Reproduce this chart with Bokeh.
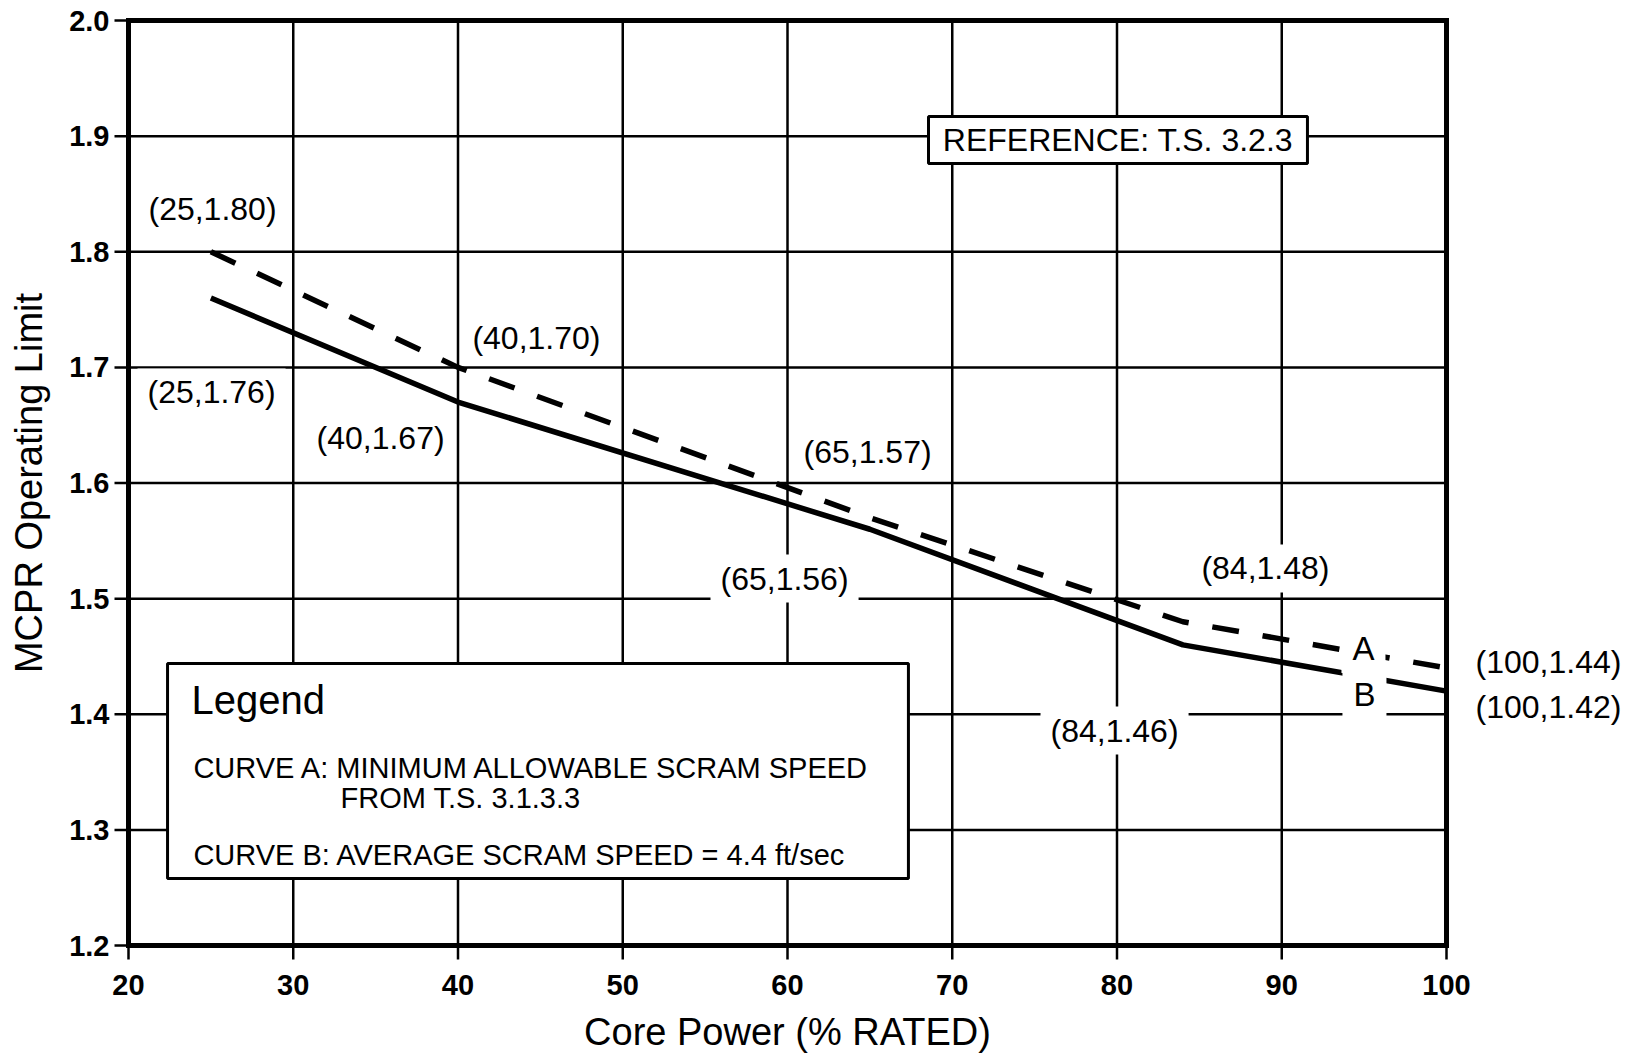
import math
from bokeh.plotting import figure
from bokeh.models import Range1d, Label, BoxAnnotation
from bokeh.embed import file_html
from bokeh.resources import INLINE

# ---- data ----
power = [25, 40, 65, 84, 100]
curve_a = [1.80, 1.70, 1.57, 1.48, 1.44]
curve_b = [1.76, 1.67, 1.56, 1.46, 1.42]
x_ticks = [20, 30, 40, 50, 60, 70, 80, 90, 100]
y_ticks = [1.2, 1.3, 1.4, 1.5, 1.6, 1.7, 1.8, 1.9, 2.0]

# annotation placement (data coordinates)
a_label_x = [25.10, 44.76, 64.86, 89.01, 106.19]
a_label_y = [1.8374, 1.7258, 1.6264, 1.5261, 1.4448]
b_label_x = [25.04, 35.30, 59.82, 79.85, 106.19]
b_label_y = [1.6783, 1.6385, 1.5174, 1.3859, 1.4059]

FONT = "Liberation Sans"
X_MIN, X_MAX = x_ticks[0], x_ticks[-1]
Y_MIN, Y_MAX = y_ticks[0], y_ticks[-1]

# ---- layout: the whole canvas is the drawing area; axes are drawn in data space ----
W, H = 1635, 1054
BOX_LEFT_PX, BOX_TOP_PX = 128, 20          # canvas position of (20, 2.0)
PX_PER_X = 16.475                           # pixels per 1 % power
PX_PER_Y = 1156.25                          # pixels per 1.0 of MCPR
VIEW_X0 = X_MIN - BOX_LEFT_PX / PX_PER_X
VIEW_X1 = X_MIN + (W - BOX_LEFT_PX) / PX_PER_X
VIEW_Y1 = Y_MAX + BOX_TOP_PX / PX_PER_Y
VIEW_Y0 = Y_MAX - (H - BOX_TOP_PX) / PX_PER_Y
TICK_X = 14 / PX_PER_X
TICK_Y = 14 / PX_PER_Y

p = figure(width=W, height=H, output_backend="svg", toolbar_location=None,
           x_axis_location=None, y_axis_location=None,
           x_range=Range1d(VIEW_X0, VIEW_X1), y_range=Range1d(VIEW_Y0, VIEW_Y1),
           min_border=0)
p.background_fill_color = "white"
p.border_fill_color = "white"
p.outline_line_color = None
p.xgrid.visible = False
p.ygrid.visible = False
for g in p.grid:
    g.grid_line_color = None

# grid lines (inside the 20..100 x 1.2..2.0 box)
p.segment(x0=x_ticks, y0=[Y_MIN] * len(x_ticks), x1=x_ticks, y1=[Y_MAX] * len(x_ticks),
          line_color="black", line_width=2.5)
p.segment(x0=[X_MIN] * len(y_ticks), y0=y_ticks, x1=[X_MAX] * len(y_ticks), y1=y_ticks,
          line_color="black", line_width=2.5)

# tick marks outside the box
p.segment(x0=x_ticks, y0=[Y_MIN] * len(x_ticks), x1=x_ticks, y1=[Y_MIN - TICK_Y] * len(x_ticks),
          line_color="black", line_width=2.5)
p.segment(x0=[X_MIN] * len(y_ticks), y0=y_ticks, x1=[X_MIN - TICK_X] * len(y_ticks), y1=y_ticks,
          line_color="black", line_width=2.5)

# heavy frame
p.segment(x0=[X_MIN, X_MIN, X_MAX, X_MIN], y0=[Y_MIN, Y_MAX, Y_MIN, Y_MIN],
          x1=[X_MIN, X_MAX, X_MAX, X_MAX], y1=[Y_MAX, Y_MAX, Y_MAX, Y_MIN],
          line_color="black", line_width=5, line_cap="square")

# curves
p.line(power, curve_a, line_color="black", line_width=5.5, line_dash="27 24", line_cap="butt")
p.line(power, curve_b, line_color="black", line_width=5.5, line_join="round")

# tick labels
for xv in x_ticks:
    p.add_layout(Label(x=xv, y=Y_MIN - 39 / PX_PER_Y, text=f"{xv}", text_font=FONT,
                       text_font_size="29px", text_font_style="bold", text_align="center",
                       text_baseline="middle", text_color="black"))
for yv in y_ticks:
    p.add_layout(Label(x=X_MIN - 19 / PX_PER_X, y=yv, text=f"{yv:.1f}", text_font=FONT,
                       text_font_size="29px", text_font_style="bold", text_align="right",
                       text_baseline="middle", text_color="black"))

# axis titles
p.add_layout(Label(x=(X_MIN + X_MAX) / 2, y=Y_MIN - 86 / PX_PER_Y, text="Core Power (% RATED)",
                   text_font=FONT, text_font_size="38px", text_align="center",
                   text_baseline="middle", text_color="black"))
p.add_layout(Label(x=X_MIN - 100 / PX_PER_X, y=(Y_MIN + Y_MAX) / 2, text="MCPR Operating Limit",
                   angle=math.pi / 2, text_font=FONT, text_font_size="38px", text_align="center",
                   text_baseline="middle", text_color="black"))

# legend box
legend_box = BoxAnnotation(left=22.37, right=67.34, top=1.4439, bottom=1.2580,
                           fill_color="white", fill_alpha=1.0,
                           line_color="black", line_width=3, line_alpha=1.0)
p.add_layout(legend_box)
ref_box = BoxAnnotation(left=68.56, right=91.56, top=1.917, bottom=1.8763,
                        fill_color="white", fill_alpha=1.0,
                        line_color="black", line_width=3, line_alpha=1.0)
p.add_layout(ref_box)

p.add_layout(Label(x=80.06, y=1.8967, text="REFERENCE: T.S. 3.2.3", text_font=FONT,
                   text_font_size="32px", text_align="center", text_baseline="middle",
                   text_color="black"))

p.add_layout(Label(x=23.82, y=1.4119, text="Legend", text_font=FONT, text_font_size="40px",
                   text_align="left", text_baseline="middle", text_color="black"))
p.add_layout(Label(x=23.94, y=1.3531, text="CURVE A: MINIMUM ALLOWABLE SCRAM SPEED", text_font=FONT,
                   text_font_size="29px", text_align="left", text_baseline="middle", text_color="black"))
p.add_layout(Label(x=32.87, y=1.3276, text="FROM T.S. 3.1.3.3", text_font=FONT,
                   text_font_size="29px", text_align="left", text_baseline="middle", text_color="black"))
p.add_layout(Label(x=23.94, y=1.2787, text="CURVE B: AVERAGE SCRAM SPEED = 4.4 ft/sec", text_font=FONT,
                   text_font_size="29px", text_align="left", text_baseline="middle", text_color="black"))

# point labels
pad = dict(left=10, right=10, top=6, bottom=6)
for xs, ys, px, py in ((power, curve_a, a_label_x, a_label_y), (power, curve_b, b_label_x, b_label_y)):
    for xv, yv, lx, ly in zip(xs, ys, px, py):
        p.add_layout(Label(x=lx, y=ly, text=f"({xv},{yv:.2f})", text_font=FONT, text_font_size="32px",
                           text_align="center", text_baseline="middle", text_color="black",
                           background_fill_color="white", background_fill_alpha=1.0, padding=pad))

# curve letters
p.add_layout(Label(x=94.96, y=1.4569, text="A", text_font=FONT, text_font_size="33px",
                   text_align="center", text_baseline="middle", text_color="black",
                   background_fill_color="white", background_fill_alpha=1.0,
                   padding=dict(left=11, right=11, top=6, bottom=6)))
p.add_layout(Label(x=95.02, y=1.4162, text="B", text_font=FONT, text_font_size="33px",
                   text_align="center", text_baseline="middle", text_color="black",
                   background_fill_color="white", background_fill_alpha=1.0,
                   padding=dict(left=11, right=11, top=6, bottom=8)))

open("out.html", "w").write(file_html(p, INLINE))
